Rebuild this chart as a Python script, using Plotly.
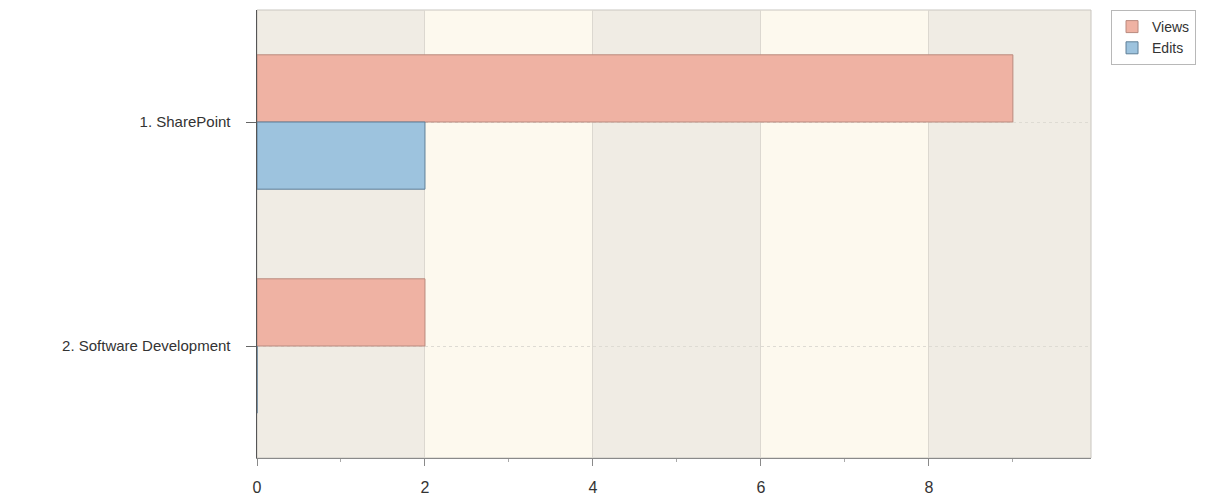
import plotly.graph_objects as go

categories = ["1. SharePoint", "2. Software Development"]
views = [9, 2]
edits = [2, 0]
x_ticks = [0, 2, 4, 6, 8]
x_max = 9.93

fig = go.Figure()
fig.add_trace(go.Bar(
    y=categories, x=views, name="Views", orientation="h",
    marker=dict(color="#efb2a3", line=dict(color="#b98a7e", width=1)),
))
fig.add_trace(go.Bar(
    y=categories, x=edits, name="Edits", orientation="h",
    marker=dict(color="#9dc3de", line=dict(color="#5f7f98", width=1)),
))

# alternating background bands derived from tick positions
edges = x_ticks + [x_max]
for i in range(len(edges) - 1):
    fig.add_shape(type="rect", xref="x", yref="paper",
                  x0=edges[i], x1=edges[i + 1], y0=0, y1=1,
                  fillcolor="#f0ece4" if i % 2 == 0 else "#fdf9ee",
                  line=dict(width=0), layer="below")
fig.add_shape(type="rect", xref="paper", yref="paper", x0=0, x1=1, y0=0, y1=1,
              line=dict(color="#c9c6c0", width=1), layer="below")

fig.update_layout(
    width=1209, height=490,
    margin=dict(l=249, r=126, t=2, b=40),
    paper_bgcolor="white", plot_bgcolor="rgba(0,0,0,0)",
    barmode="group", bargap=0.4, bargroupgap=0,
    font=dict(family="Liberation Sans, Arial, sans-serif", size=15, color="#333333"),
    showlegend=True,
    legend=dict(x=1.024, y=1.0, xanchor="left", yanchor="top",
                bordercolor="#b8b8b8", borderwidth=1, bgcolor="white",
                font=dict(size=14, color="#333333"), tracegroupgap=0,
                itemwidth=30),
    xaxis=dict(range=[0, x_max], tickvals=x_ticks, showgrid=True,
               gridcolor="#dcd8d0", gridwidth=1, zeroline=False,
               showline=True, linecolor="#8a8a8a", linewidth=1,
               ticks="outside", ticklen=7, tickcolor="#8a8a8a",
               ticklabelstandoff=8,
               minor=dict(tickvals=[1, 3, 5, 7, 9], ticks="outside", ticklen=3,
                          tickcolor="#aaaaaa", showgrid=False),
               tickfont=dict(size=16), fixedrange=True),
    yaxis=dict(autorange="reversed", showgrid=True, gridcolor="#dedbd3",
               griddash="dot", gridwidth=1, showline=True, linecolor="#555555",
               linewidth=1, ticks="outside", ticklen=10, tickcolor="#666666",
               tickwidth=1, ticksuffix="   ",
               tickfont=dict(size=15), zeroline=False),
)

fig.write_html("out.html")
